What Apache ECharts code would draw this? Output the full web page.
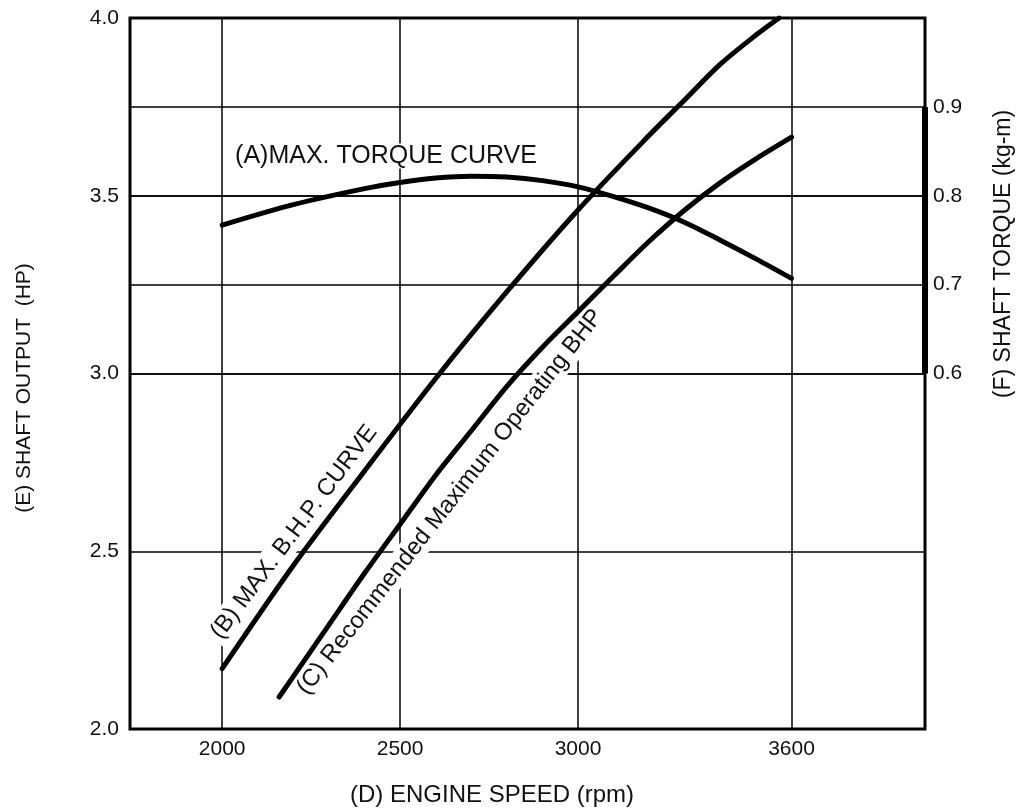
<!DOCTYPE html>
<html><head><meta charset="utf-8">
<script src="https://cdn.jsdelivr.net/npm/echarts@6/dist/echarts.min.js"></script>
<style>html,body{margin:0;padding:0;background:#fff}#c{width:1025px;height:808px}</style>
</head><body><div id="c"></div>
<script>
// ---- tick labels ----
const speedTicks = [2000, 2500, 3000, 3600];
const outputTicks = [2.0, 2.5, 3.0, 3.5, 4.0];
const torqueTicks = [0.6, 0.7, 0.8, 0.9];

// ---- (A) max torque curve (kg-m, right axis) ----
const torqueRpm    = [2000, 2200, 2400, 2500, 2600, 2700, 2800, 2900, 3000, 3100, 3200, 3300, 3400, 3500, 3600];
const torqueValues = [0.767, 0.790, 0.808, 0.815, 0.820, 0.822, 0.821, 0.817, 0.810, 0.799, 0.786, 0.770, 0.750, 0.729, 0.707];

// ---- (B) max B.H.P. curve (HP) ----
const bhpRpm    = [2000, 2200, 2400, 2600, 2800, 3000, 3200, 3300, 3400, 3500, 3565];
const bhpValues = [2.17, 2.46, 2.726, 2.986, 3.23, 3.46, 3.67, 3.77, 3.87, 3.952, 4.0];

// ---- (C) recommended maximum operating BHP (HP) ----
const recRpm    = [2160, 2300, 2400, 2500, 2600, 2700, 2800, 2900, 3000, 3100, 3200, 3300, 3400, 3500, 3600];
const recValues = [2.09, 2.293, 2.438, 2.576, 2.714, 2.839, 2.964, 3.074, 3.174, 3.274, 3.372, 3.46, 3.537, 3.604, 3.665];

const X_MIN = 1741, X_MAX = 3975;
const FONT = "'Liberation Sans', Arial, Helvetica, sans-serif";

const zip = (xs, ys) => xs.map((x, i) => [x, ys[i]]);
const chart = echarts.init(document.getElementById('c'), null, {renderer: 'canvas'});

const curveStyle = {color: '#000', width: 5, cap: 'round', join: 'round'};

chart.setOption({
  backgroundColor: '#fff',
  animation: false,
  grid: {left: 130, right: 100, top: 18, bottom: 79, show: true,
         borderColor: '#000', borderWidth: 3, backgroundColor: 'transparent'},
  xAxis: {
    type: 'value', min: X_MIN, max: X_MAX,
    axisLine: {show: false},
    axisTick: {show: false, customValues: speedTicks},
    axisLabel: {customValues: speedTicks, margin: 10, color: '#111', fontSize: 21, fontFamily: FONT,
                formatter: v => String(v)},
    splitLine: {show: true, lineStyle: {color: '#000', width: 1.5}}
  },
  yAxis: [
    {
      type: 'value', min: outputTicks[0], max: outputTicks[outputTicks.length - 1], interval: 0.5, position: 'left',
      axisLine: {show: false}, axisTick: {show: false},
      axisLabel: {margin: 11, color: '#111', fontSize: 21, fontFamily: FONT,
                  formatter: v => v.toFixed(1)},
      splitLine: {show: true, lineStyle: {color: '#000', width: 1.5}}
    },
    {
      type: 'value', min: 0.2, max: 1.0, position: 'right',
      axisLine: {show: false},
      axisTick: {show: false, customValues: torqueTicks},
      axisLabel: {customValues: torqueTicks, margin: 8, color: '#111', fontSize: 21, fontFamily: FONT,
                  formatter: v => v.toFixed(1)},
      splitLine: {show: true, lineStyle: {color: '#000', width: 1.5}}
    }
  ],
  series: [
    {name: '(A) MAX. TORQUE CURVE', type: 'line', yAxisIndex: 1, smooth: 0.3, symbol: 'none',
     lineStyle: curveStyle, data: zip(torqueRpm, torqueValues), z: 3},
    {name: '(B) MAX. B.H.P. CURVE', type: 'line', yAxisIndex: 0, smooth: 0.3, symbol: 'none',
     lineStyle: curveStyle, data: zip(bhpRpm, bhpValues), z: 3},
    {name: '(C) Recommended Maximum Operating BHP', type: 'line', yAxisIndex: 0, smooth: 0.3, symbol: 'none',
     lineStyle: curveStyle, data: zip(recRpm, recValues), z: 3},
    {name: 'torque scale', type: 'line', yAxisIndex: 1, symbol: 'none', clip: false, silent: true,
     lineStyle: {color: '#000', width: 6},
     data: [[X_MAX, torqueTicks[0]], [X_MAX, torqueTicks[torqueTicks.length - 1]]], z: 3}
  ],
  graphic: [
    {type: 'text', x: 386, y: 156, z: 1,
     style: {text: '(A)MAX. TORQUE CURVE', font: '25px ' + FONT, fill: '#111',
             textAlign: 'center', textVerticalAlign: 'middle', backgroundColor: '#fff'}},
    {type: 'text', x: 294, y: 532, rotation: 53 * Math.PI / 180, z: 1,
     style: {text: '(B) MAX. B.H.P. CURVE', font: '24px ' + FONT, fill: '#111',
             textAlign: 'center', textVerticalAlign: 'middle', backgroundColor: '#fff', padding: [2, 4]}},
    {type: 'text', x: 450, y: 502, rotation: 52 * Math.PI / 180, z: 1,
     style: {text: '(C) Recommended Maximum Operating BHP', font: '24px ' + FONT, fill: '#111',
             textAlign: 'center', textVerticalAlign: 'middle', backgroundColor: '#fff', padding: [2, 4]}},
    {type: 'text', x: 24, y: 388, rotation: Math.PI / 2,
     style: {text: '(E) SHAFT OUTPUT  (HP)', font: '21px ' + FONT, fill: '#111',
             textAlign: 'center', textVerticalAlign: 'middle'}},
    {type: 'text', x: 1004, y: 254, rotation: Math.PI / 2,
     style: {text: '(F) SHAFT TORQUE (kg-m)', font: '23px ' + FONT, fill: '#111',
             textAlign: 'center', textVerticalAlign: 'middle'}},
    {type: 'text', x: 492, y: 795,
     style: {text: '(D) ENGINE SPEED (rpm)', font: '24px ' + FONT, fill: '#111',
             textAlign: 'center', textVerticalAlign: 'middle'}}
  ]
});
</script>
</body></html>
